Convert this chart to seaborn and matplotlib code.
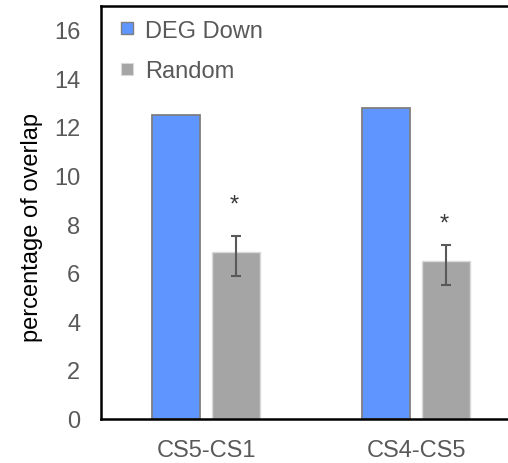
import matplotlib
matplotlib.use("Agg")
import matplotlib.pyplot as plt
import seaborn as sns
import pandas as pd
from matplotlib.lines import Line2D

categories = ["CS5-CS1", "CS4-CS5"]
series = ["DEG Down", "Random"]
deg_down = [12.5, 12.8]
random_vals = [6.86, 6.49]
random_err_low = [1.0, 0.99]
random_err_high = [0.66, 0.66]
star_y = [9.13, 8.35]

df = pd.DataFrame({
    "cat": categories * 2,
    "series": [series[0]] * 2 + [series[1]] * 2,
    "val": deg_down + random_vals,
})

sns.set_theme(style="white")
plt.rcParams["font.family"] = ["Liberation Sans", "DejaVu Sans"]

FS = 17
fig = plt.figure(figsize=(5.08, 4.64), dpi=100)
ax = fig.add_axes([101 / 508, 44.5 / 464, 420 / 508, 413 / 464])

colors = ["#5F95FF", "#A5A5A5"]
sns.barplot(data=df, x="cat", y="val", hue="series", order=categories,
            hue_order=series, palette=colors, width=0.567, gap=0.2,
            saturation=1, errorbar=None, ax=ax, legend=False)

for cont, ec, lw in zip(ax.containers, ["#7F7F7F", "#D9D9D9"], [1.3, 1.0]):
    for p in cont:
        p.set_edgecolor(ec)
        p.set_linewidth(lw)

gray_cont = ax.containers[1]
xs = [p.get_x() + p.get_width() / 2 for p in gray_cont]
ax.errorbar(xs, random_vals, yerr=[random_err_low, random_err_high], fmt="none",
            ecolor="#595959", elinewidth=1.5, capsize=3.6, capthick=1.5)
for x, y in zip(xs, star_y):
    ax.annotate("*", xy=(x, y), xytext=(-0.8, -9.7), textcoords="offset points",
                ha="center", va="baseline", fontsize=FS, color="#3A3A3A")

ax.set_ylim(0, 17)
ax.set_yticks(range(0, 17, 2))
ax.set_xlim(-0.5, 1.5)
ax.set_xlabel("")
ax.set_ylabel("percentage of overlap", fontsize=FS, color="black")
ax.yaxis.set_label_coords(-0.138, 0.465)
ax.tick_params(axis="both", length=0, labelsize=FS, labelcolor="#595959")
ax.tick_params(axis="y", pad=15)
ax.tick_params(axis="x", pad=14.5)

for s in ["left", "bottom", "top", "right"]:
    ax.spines[s].set_color("black")
    ax.spines[s].set_linewidth(1.8)
    ax.spines[s].set_visible(True)

handles = [
    Line2D([], [], marker="s", linestyle="none", markersize=9,
           markerfacecolor=colors[0], markeredgecolor="#7F7F7F", markeredgewidth=1),
    Line2D([], [], marker="s", linestyle="none", markersize=9,
           markerfacecolor=colors[1], markeredgecolor="#D9D9D9", markeredgewidth=0.8),
]
leg = ax.legend(handles, series, loc="upper left", frameon=False, fontsize=FS,
                handlelength=0.8, handletextpad=0.38, labelspacing=0.79,
                bbox_to_anchor=(0.0, 1.006), borderaxespad=0.3)
for t in leg.get_texts():
    t.set_color("#595959")

fig.savefig("out.png", dpi=100)
